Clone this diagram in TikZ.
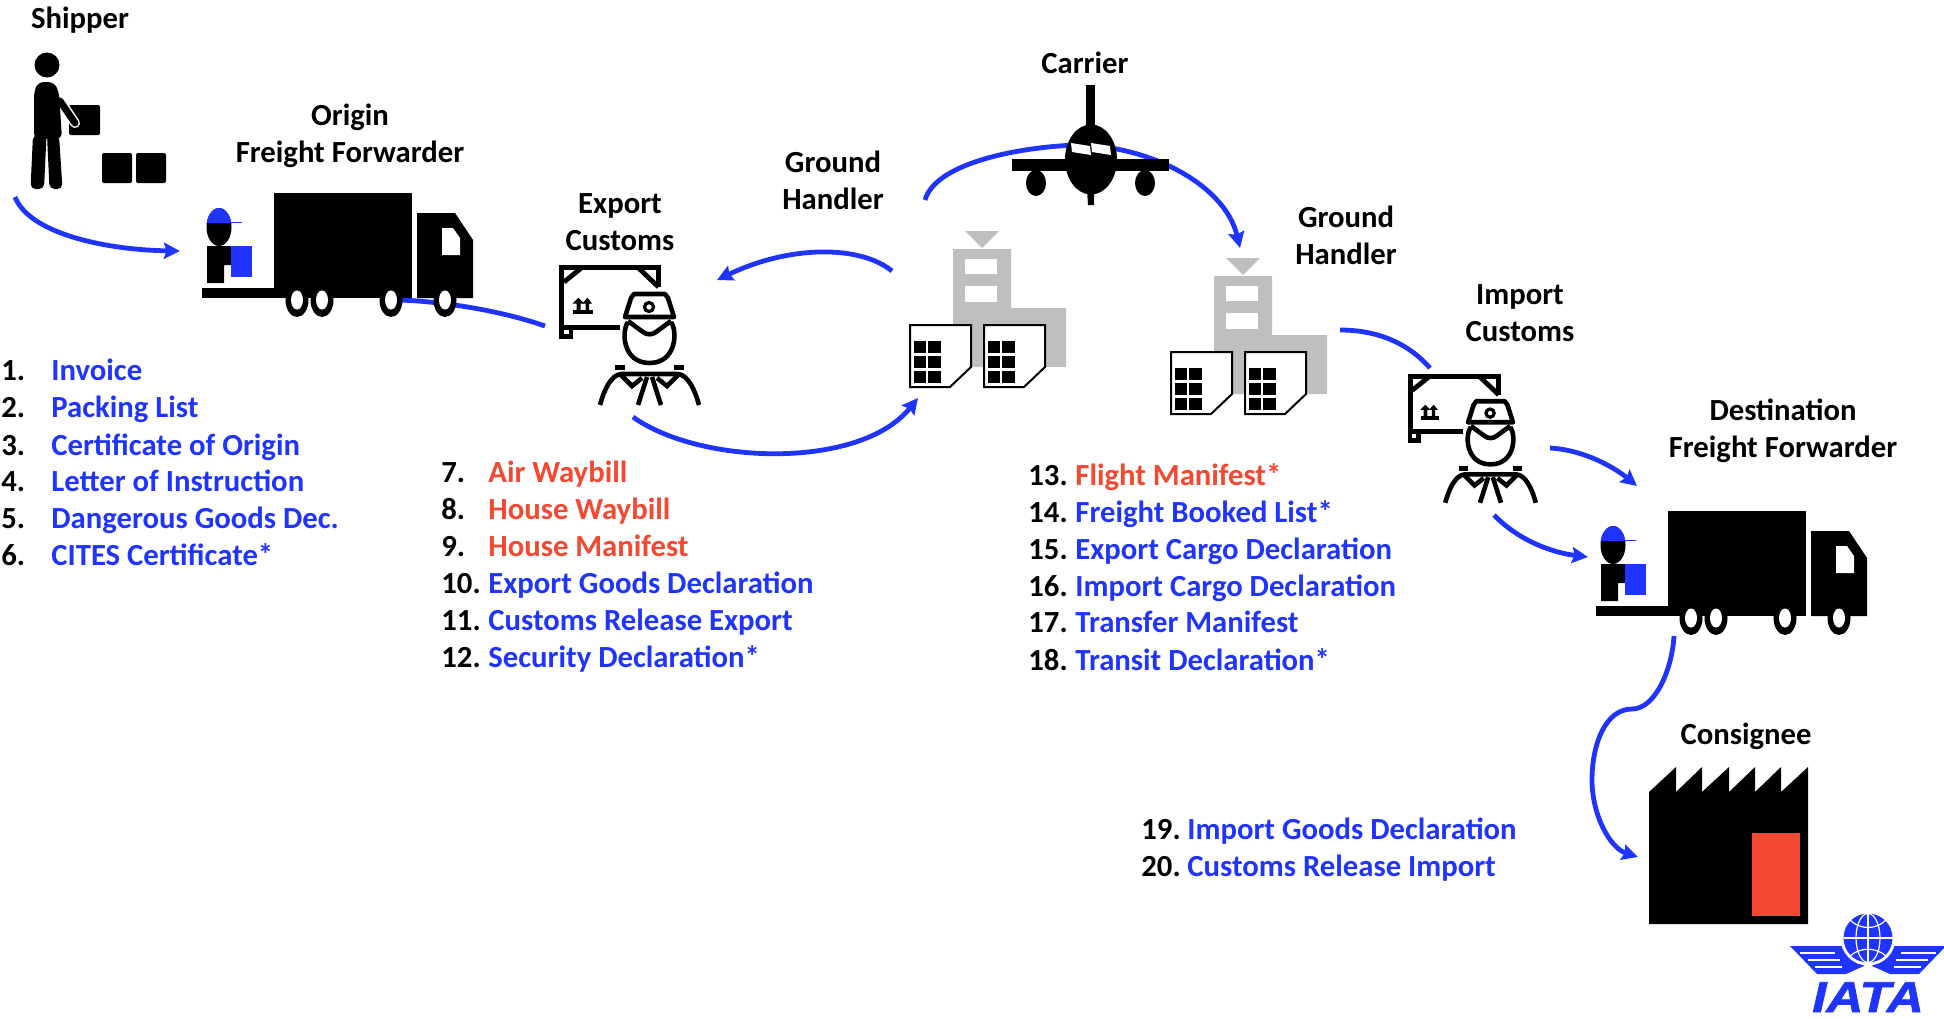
\documentclass[tikz,border=0pt]{standalone}
\usepackage{fontspec}
\setmainfont{Carlito}
\newfontfamily\logofont{Liberation Sans}[BoldItalicFeatures={FakeBold=1.6}]
\usepackage{pgf,tikz}
\usetikzlibrary{arrows.meta}
\definecolor{iatablue}{RGB}{31,53,255}
\definecolor{docred}{RGB}{244,72,49}
\definecolor{towergrey}{RGB}{191,191,191}
\tikzset{
  lbl/.style={font=\fontsize{15.35}{18.5}\selectfont\bfseries,align=center,inner sep=0pt,text=black},
  num/.style={font=\fontsize{15.35}{18.5}\selectfont\bfseries,anchor=base west,inner sep=0pt,text=black},
  bluedoc/.style={num,text=iatablue},
  reddoc/.style={num,text=docred},
  flow/.style={draw=iatablue,line width=2.4pt,line cap=butt},
  flowarr/.style={flow,->},
  pics/truckicon/.style={code={
    \fill (72,0) rectangle (210,105);
    \fill (0,95) rectangle (72,105);
    \fill (215,20)-- (253,20)-- (271,47)-- (271,105)-- (215,105)-- cycle;
    \fill[white] (240,35)-- (251,35)-- (258,45)-- (258,62)-- (240,62)-- cycle;
    \fill (95,107) ellipse (11.5 and 17);
    \fill (120,107) ellipse (11.5 and 17);
    \fill (189,107) ellipse (11.5 and 17);
    \fill (243,107) ellipse (11.5 and 17);
    \fill[white] (95,107) ellipse (6 and 9.5);
    \fill[white] (120,107) ellipse (6 and 9.5);
    \fill[white] (189,107) ellipse (6 and 9.5);
    \fill[white] (243,107) ellipse (6 and 9.5);
    \fill (17,34) ellipse (12.5 and 19);
    \begin{scope}
    \clip (0,10) rectangle (40,29);
    \fill[iatablue] (17,34) ellipse (12.5 and 19);
    \end{scope}
    \draw[iatablue,line width=0.5pt] (5,29)-- (40,29);
    \fill (5,53)-- (30,53)-- (30,72)-- (22,72)-- (22,90)-- (5,90)-- cycle;
    \fill[iatablue] (29,53) rectangle (50,84);
  }},
  pics/docicon/.style={code={
    \draw[line width=1pt,fill=white] (1,1)-- (62,1)-- (62,43)-- (41,63)-- (1,63)-- cycle;
    \fill (5,17) rectangle (17,29);
    \fill (19,17) rectangle (32,29);
    \fill (5,32) rectangle (17,44);
    \fill (19,32) rectangle (32,44);
    \fill (5,47) rectangle (17,59);
    \fill (19,47) rectangle (32,59);
  }},
  pics/handlericon/.style={code={
    \fill[towergrey] (56,0)-- (90,0)-- (73,17)-- cycle;
    \fill[towergrey] (44,18)-- (102,18)-- (102,77)-- (157,77)-- (157,136)-- (44,136)-- cycle;
    \fill[white] (56,28) rectangle (88,43);
    \fill[white] (56,55) rectangle (88,71);
    \pic at (0,93) {docicon};
    \pic at (74,93) {docicon};
  }},
  pics/customsicon/.style={code={
    \draw[line width=2.5pt] (60.5,62.5)-- (2.5,62.5)-- (2.5,2.5)-- (99.5,2.5)-- (99.5,22);
    \draw[line width=2.4pt] (5,17)-- (23,2.5);
    \draw[line width=2.4pt] (79,2.5)-- (99.5,22);
    \draw[line width=2.4pt] (2.5,62.5) rectangle (12,71.5);
    \fill (14,45) rectangle (34,49);
    \fill (19.3,32.7)-- (25,38.5)-- (21.5,38.5)-- (21.5,46)-- (17.5,46)-- (17.5,38.5)-- (13.7,38.5)-- cycle;
    \fill (28.3,32.7)-- (33,38.5)-- (30,38.5)-- (30,46)-- (26.5,46)-- (26.5,38.5)-- (23.5,38.5)-- cycle;
    \draw[line width=2.3pt,line join=round] (66,52)-- (72,33)-- (75,29)-- (106,29)-- (109,33)-- (115,52)-- cycle;
    \draw[line width=1.6pt] (90,42) circle (4.5);
    \draw[line width=2.3pt] (69,57) .. controls (62,67) and (64,98) .. (90.5,98) .. controls (117,98) and (119,67) .. (112,57);
    \draw[line width=2.3pt] (69,56)-- (84,67) .. controls (88,70) and (93,70) .. (97,67)-- (112,56);
    \fill (56,100) rectangle (66,105);
    \fill (115,100) rectangle (125,105);
    \draw[line width=2.3pt] (41,140) .. controls (45,125) and (52,110) .. (62,109)-- (119,109) .. controls (129,110) and (136,125) .. (140,140);
    \draw[line width=2.3pt] (62,110)-- (73,121)-- (83,113);
    \draw[line width=2.3pt] (119,110)-- (108,121)-- (98,113);
    \draw[line width=2.3pt] (88,112)-- (79,140);
    \draw[line width=2.3pt] (93,112)-- (102,140);
  }},
}
\begin{document}
\begin{tikzpicture}[>={Stealth[length=8pt,width=8pt,inset=1.2pt]},x=0.5pt,y=-0.5pt]
\useasboundingbox (0,0) rectangle (1944,1018);
% free ends of the flow lines
\coordinate (shipperout) at (15,197);
\coordinate (originin) at (180,251);
\coordinate (originout) at (400,300);
\coordinate (exportin) at (545,326);
\coordinate (exportout) at (633,417);
\coordinate (handlerin) at (918,398);
\coordinate (handlerback) at (892,271);
\coordinate (exportback) at (717,280);
\coordinate (carrierin) at (925,200);
\coordinate (carrierout) at (1240,248);
\coordinate (secondout) at (1340,330);
\coordinate (importin) at (1430,368);
\coordinate (importa) at (1550,448);
\coordinate (desta) at (1637,486);
\coordinate (importb) at (1494,515);
\coordinate (destb) at (1588,557);
\coordinate (destout) at (1674,636);
\coordinate (consigneein) at (1638,857);
% flow lines
\draw[flowarr] (shipperout) .. controls (30,235) and (110,250) .. (originin);
\draw[flow] (originout) .. controls (450,302) and (505,312) .. (exportin);
\draw[flowarr] (exportout) .. controls (700,465) and (860,470) .. (handlerin);
\draw[flowarr] (handlerback) .. controls (860,245) and (790,245) .. (exportback);
\draw[flowarr] (carrierin) .. controls (935,165) and (1010,148) .. (1075,145) .. controls (1150,145) and (1225,185) .. (carrierout);
\draw[flow] (secondout) .. controls (1380,330) and (1410,345) .. (importin);
\draw[flowarr] (importa) .. controls (1585,450) and (1615,468) .. (desta);
\draw[flowarr] (importb) .. controls (1520,542) and (1555,553) .. (destb);
\draw[flowarr] (destout) .. controls (1672,670) and (1655,709) .. (1632,709) .. controls (1605,709) and (1592,745) .. (1592,780) .. controls (1592,815) and (1610,848) .. (consigneein);
% shipper
\fill (47,65) circle (12.5);
\fill[rounded corners=1pt] (69,105) rectangle (100,135);
\fill[rounded corners=1pt] (102,153) rectangle (132,183);
\fill[rounded corners=1pt] (136,153) rectangle (166,183);
\draw[white,line width=5pt,line cap=round] (60,101)-- (75,123);
\draw[line width=3.5pt,line cap=round] (60,101)-- (75,123);
\fill[rounded corners=3pt] (34,139)-- (34,92)-- (38,82)-- (54,82)-- (59,92)-- (62,139)-- cycle;
\fill[rounded corners=2.5pt] (33,135)-- (30.5,189)-- (44,189)-- (46.5,135)-- cycle;
\fill[rounded corners=2.5pt] (47,135)-- (49.5,189)-- (62.5,189)-- (59,135)-- cycle;
% carrier
\fill (1086,85) rectangle (1095,130);
\fill (1087,190)-- (1094,190)-- (1094,205)-- (1088,205)-- cycle;
\fill (1091,159.5) ellipse (26 and 35);
\fill (1012,159) rectangle (1169,171);
\fill (1036,183) ellipse (10 and 13);
\fill (1145,183) ellipse (10 and 13);
\fill[white] (1071,143)-- (1090,146)-- (1091,155)-- (1072,152)-- cycle;
\fill[white] (1091,143)-- (1110,146)-- (1111,155)-- (1092,152)-- cycle;
% icons
\pic (origintruck) at (202,193) {truckicon};
\pic (desttruck) at (1596,511) {truckicon};
\pic (firsthandler) at (909,231) {handlericon};
\pic (secondhandler) at (1170,258) {handlericon};
\pic (exporticon) at (559,265) {customsicon};
\pic[scale=0.915] (importicon) at (1407.7,374.7) {customsicon};
% consignee
\fill (1649,792)-- (1676,767)-- (1676,792)-- (1702,767)-- (1702,792)-- (1729,767)-- (1729,792)-- (1755,767)-- (1755,792)-- (1781,767)-- (1781,792)-- (1808,767)-- (1808,924)-- (1649,924)-- cycle;
\fill[docred] (1752,833) rectangle (1800,916);
% logo
\fill[iatablue] (1790,946)-- (1848,946)-- (1864,966)-- (1846,974)-- (1817,974)-- cycle;
\fill[iatablue] (1946,946)-- (1888,946)-- (1872,966)-- (1890,974)-- (1919,974)-- cycle;
\draw[white,line width=0.8pt] (1800,953)-- (1835,953);
\draw[white,line width=0.8pt] (1808,960)-- (1840,960);
\draw[white,line width=0.8pt] (1815,967)-- (1842,967);
\draw[white,line width=0.8pt] (1936,953)-- (1901,953);
\draw[white,line width=0.8pt] (1928,960)-- (1896,960);
\draw[white,line width=0.8pt] (1921,967)-- (1894,967);
\fill[white] (1868,938) circle (27.5);
\fill[iatablue] (1868,938) circle (24.5);
\draw[white,line width=0.6pt] (1868,938) ellipse (12 and 24.5);
\draw[white,line width=0.6pt] (1868,913.5)-- (1868,962.5);
\draw[white,line width=0.6pt] (1843.5,938)-- (1892.5,938);
\draw[white,line width=0.6pt] (1850,920) .. controls (1860,930) and (1876,930) .. (1886,920);
\draw[white,line width=0.6pt] (1850,956) .. controls (1860,947) and (1876,947) .. (1886,956);
\node[iatablue,anchor=base,inner sep=0pt,xscale=1.18,font=\logofont\fontsize{21.6}{22}\selectfont\bfseries\itshape] (iatalogo) at (1868,1012) {IATA};
% labels
\node[lbl] (shipper) at (80,20) {Shipper};
\node[lbl] (originff) at (350,135.5) {Origin\\Freight Forwarder};
\node[lbl] (exportcustoms) at (620,222.5) {Export\\Customs};
\node[lbl] (firstgh) at (833,180) {Ground\\Handler};
\node[lbl] (carrier) at (1085,63) {Carrier};
\node[lbl] (secondgh) at (1346,235) {Ground\\Handler};
\node[lbl] (importcustoms) at (1520,313) {Import\\Customs};
\node[lbl] (destff) at (1783,430.5) {Destination\\Freight Forwarder};
\node[lbl] (consignee) at (1746,736.5) {Consignee};
% document lists
\node[num] (n1) at (1,380) {1.};
\node[num] (n2) at (1,417) {2.};
\node[num] (n3) at (1,455) {3.};
\node[num] (n4) at (1,491) {4.};
\node[num] (n5) at (1,528) {5.};
\node[num] (n6) at (1,565) {6.};
\node[bluedoc] (d1) at (51,380) {Invoice};
\node[bluedoc] (d2) at (51,417) {Packing List};
\node[bluedoc] (d3) at (51,455) {Certificate of Origin};
\node[bluedoc] (d4) at (51,491) {Letter of Instruction};
\node[bluedoc] (d5) at (51,528) {Dangerous Goods Dec.};
\node[bluedoc] (d6) at (51,565) {CITES Certificate*};
\node[num] (n7) at (441,482) {7.};
\node[num] (n8) at (441,519) {8.};
\node[num] (n9) at (441,556) {9.};
\node[num] (n10) at (441,593) {10.};
\node[num] (n11) at (441,630) {11.};
\node[num] (n12) at (441,667) {12.};
\node[reddoc] (d7) at (488,482) {Air Waybill};
\node[reddoc] (d8) at (488,519) {House Waybill};
\node[reddoc] (d9) at (488,556) {House Manifest};
\node[bluedoc] (d10) at (488,593) {Export Goods Declaration};
\node[bluedoc] (d11) at (488,630) {Customs Release Export};
\node[bluedoc] (d12) at (488,667) {Security Declaration*};
\node[num] (n13) at (1028,485) {13.};
\node[num] (n14) at (1028,522) {14.};
\node[num] (n15) at (1028,559) {15.};
\node[num] (n16) at (1028,596) {16.};
\node[num] (n17) at (1028,632) {17.};
\node[num] (n18) at (1028,670) {18.};
\node[reddoc] (d13) at (1075,485) {Flight Manifest*};
\node[bluedoc] (d14) at (1075,522) {Freight Booked List*};
\node[bluedoc] (d15) at (1075,559) {Export Cargo Declaration};
\node[bluedoc] (d16) at (1075,596) {Import Cargo Declaration};
\node[bluedoc] (d17) at (1075,632) {Transfer Manifest};
\node[bluedoc] (d18) at (1075,670) {Transit Declaration*};
\node[num] (n19) at (1141,839) {19.};
\node[num] (n20) at (1141,876) {20.};
\node[bluedoc] (d19) at (1187,839) {Import Goods Declaration};
\node[bluedoc] (d20) at (1187,876) {Customs Release Import};
\end{tikzpicture}
\end{document}
